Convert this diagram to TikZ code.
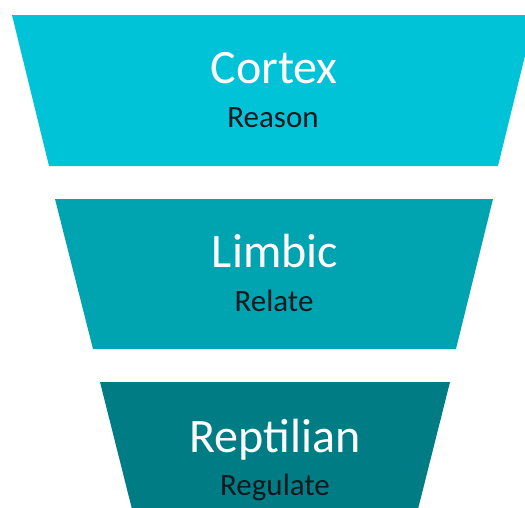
\documentclass[tikz,border=0pt]{standalone}
\usepackage{fontspec}
\setmainfont{Carlito}

\definecolor{cortexc}{HTML}{00C3D7}
\definecolor{limbicc}{HTML}{00A3B0}
\definecolor{reptc}{HTML}{007D84}
\definecolor{subc}{HTML}{101820}

\tikzset{
  layer/.style={font=\fontsize{48}{48}\selectfont, text=white, anchor=base},
  role/.style={font=\fontsize{31}{31}\selectfont, text=subc, anchor=base}
}

\begin{document}
\begin{tikzpicture}[x=1pt,y=-1pt]
\clip (0,0) rectangle (525,507);
\fill [white] (0,0) rectangle (525,507);

\fill [cortexc] (12,15) -- (535,15) -- (498,166) -- (49,166) -- cycle;
\fill [limbicc] (55,199) -- (493,199) -- (456,349) -- (93,349) -- cycle;
\fill [reptc] (100,382) -- (450,382) -- (412,533) -- (138,533) -- cycle;

\node [layer] (cortex) at (274,83) {Cortex};
\node [role] (reason) at (273,127) {Reason};
\node [layer] (limbic) at (275,267) {Limbic};
\node [role] (relate) at (274,311) {Relate};
\node [layer] (reptilian) at (275,452) {Reptilian};
\node [role] (regulate) at (275,495) {Regulate};
\end{tikzpicture}
\end{document}
